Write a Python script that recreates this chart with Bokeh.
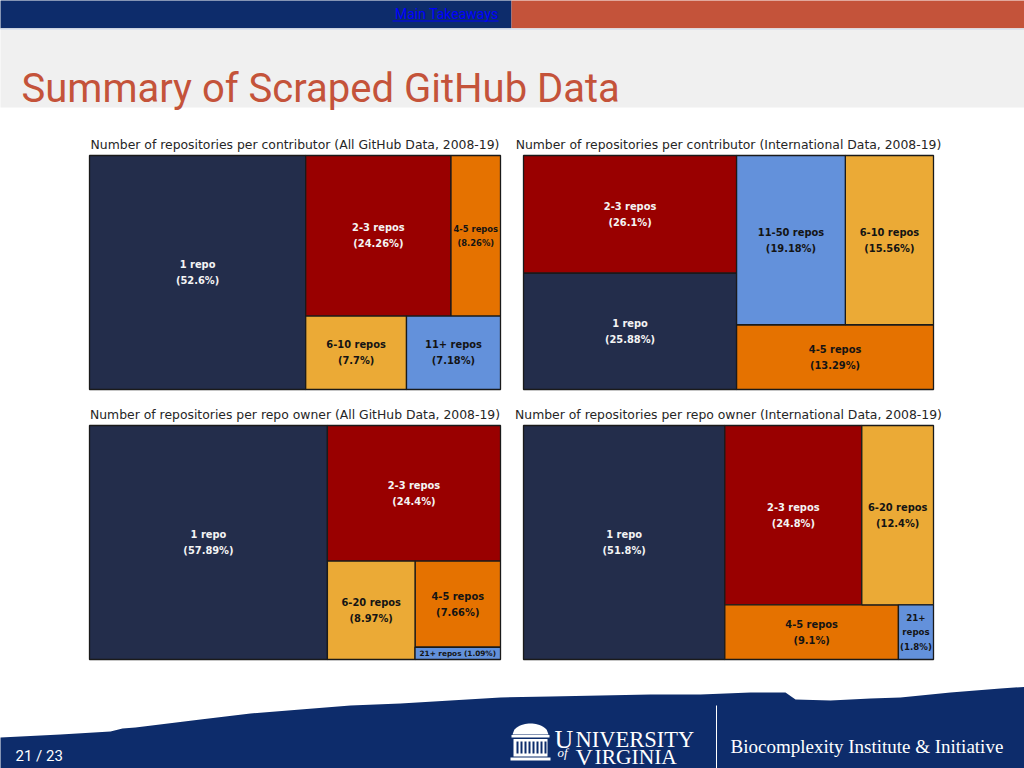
import math
from bokeh.plotting import figure
from bokeh.models import Range1d
from bokeh.core.properties import value
from bokeh.embed import file_html
from bokeh.resources import INLINE

# ---------------- data ----------------
# category slots: 0 = "1 repo", 1 = "2-3 repos", 2 = "4-5 repos", 3 = "6-x repos", 4 = "11+/21+ repos"
titles = [
    "Number of repositories per contributor (All GitHub Data, 2008-19)",
    "Number of repositories per contributor (International Data, 2008-19)",
    "Number of repositories per repo owner (All GitHub Data, 2008-19)",
    "Number of repositories per repo owner (International Data, 2008-19)",
]
names_contrib_all = ["1 repo", "2-3 repos", "4-5 repos", "6-10 repos", "11+ repos"]
pct_contrib_all = [52.6, 24.26, 8.26, 7.7, 7.18]

names_contrib_intl = ["1 repo", "2-3 repos", "4-5 repos", "6-10 repos", "11-50 repos"]
pct_contrib_intl = [25.88, 26.1, 13.29, 15.56, 19.18]

names_owner_all = ["1 repo", "2-3 repos", "4-5 repos", "6-20 repos", "21+ repos"]
pct_owner_all = [57.89, 24.4, 7.66, 8.97, 1.09]

names_owner_intl = ["1 repo", "2-3 repos", "4-5 repos", "6-20 repos", "21+ repos"]
pct_owner_intl = [51.8, 24.8, 9.1, 12.4, 1.8]
# area shares of the rectangles as drawn in the picture (labels above are the printed values)
area_owner_intl = [49.1, 25.6, 9.9, 13.4, 2.0]

charts = [
    (names_contrib_all, pct_contrib_all, pct_contrib_all),
    (names_contrib_intl, pct_contrib_intl, pct_contrib_intl),
    (names_owner_all, pct_owner_all, pct_owner_all),
    (names_owner_intl, pct_owner_intl, area_owner_intl),
]

# ---------------- styles ----------------
SLOT_COLORS = ["#232D4B", "#990000", "#E57200", "#EBAA36", "#6391DB"]
SLOT_TEXT = ["#F4F4F4", "#F4F4F4", "#141414", "#141414", "#141414"]
NAVY = "#0D2C6B"
ORANGE = "#C4533A"

# DejaVu Sans Bold advance widths (em)
EM = {"0": .696, "1": .696, "2": .696, "3": .696, "4": .696, "5": .696, "6": .696,
      "7": .696, "8": .696, "9": .696, " ": .348, "(": .457, ")": .457, "%": 1.002,
      ".": .381, "-": .415, "+": .838, "r": .493, "e": .678, "p": .716, "o": .687, "s": .595}


def em(s):
    return sum(EM.get(c, .65) for c in s)


def fit_label(name, pct, w, h, base=9.9, lh=1.45):
    pct_s = "(%s%%)" % ("%g" % pct)
    lines = [name, pct_s]
    size = min(base, 0.9 * w / max(em(l) for l in lines))
    if h < 2 * lh * size + 4:
        line = name + " " + pct_s
        return line, min(base, 0.9 * w / em(line), 0.7 * h)
    if size < 7.5:
        lines = name.split() + [pct_s]
        size = min(base, 0.9 * w / max(em(l) for l in lines), 0.9 * h / (len(lines) * lh))
    return "\n".join(lines), size


def squarify_d3(vals, x0, y0, x1, y1, ratio=(1 + math.sqrt(5)) / 2):
    order = sorted(range(len(vals)), key=lambda i: -vals[i])
    nodes = [vals[i] for i in order]
    n = len(nodes)
    rects = [None] * n
    total = sum(nodes)
    i0 = i1 = 0
    while i0 < n:
        dx, dy = x1 - x0, y1 - y0
        s = nodes[i1]
        i1 += 1
        mn = mx = s
        alpha = max(dy / dx, dx / dy) / (total * ratio)
        beta = s * s * alpha
        min_ratio = max(mx / beta, beta / mn)
        while i1 < n:
            nv = nodes[i1]
            s += nv
            mn, mx = min(mn, nv), max(mx, nv)
            beta = s * s * alpha
            new_ratio = max(mx / beta, beta / mn)
            if new_ratio > min_ratio:
                s -= nv
                break
            min_ratio = new_ratio
            i1 += 1
        row = list(range(i0, i1))
        if dx < dy:
            ny = y0 + dy * s / total
            xx = x0
            for k in row:
                w = dx * nodes[k] / s
                rects[order[k]] = (xx, y0, xx + w, ny)
                xx += w
            y0 = ny
        else:
            nx = x0 + dx * s / total
            yy = y0
            for k in row:
                hh = dy * nodes[k] / s
                rects[order[k]] = (x0, yy, nx, yy + hh)
                yy += hh
            x0 = nx
        total -= s
        i0 = i1
    return rects


# ---------------- figure (coordinates = reference pixels) ----------------
W, H = 1024, 768
p = figure(width=W, height=H, output_backend="svg", toolbar_location=None,
           x_range=Range1d(0, 1024), y_range=Range1d(768, 0), min_border=0,
           background_fill_color="white", border_fill_color="white")
p.axis.visible = False
p.grid.visible = False
p.outline_line_color = None

sans = value("Roboto")
# header
p.quad(left=[-10], right=[511], top=[-10], bottom=[28], fill_color=NAVY, line_color=None)
p.quad(left=[511], right=[1030], top=[-10], bottom=[28], fill_color=ORANGE, line_color=None)
p.quad(left=[-10], right=[1030], top=[28], bottom=[107], fill_color="#F0F0F0", line_color=None)
p.quad(left=[-10], right=[1030], top=[28], bottom=[29.5], fill_color="#DCE3EE", line_color=None)
p.text(x=[498], y=[13.5], text=["Main Takeaways"], text_align="right", text_baseline="middle",
       text_font=sans, text_font_size="14px", text_color="#0000FF")
p.segment(x0=[392], y0=[20.5], x1=[498], y1=[20.5], line_color="#0000FF", line_width=1)
p.text(x=[21], y=[88], text=["Summary of Scraped GitHub Data"], text_align="left",
       text_baseline="alphabetic", text_font=sans,
       text_font_size="40px", text_color=ORANGE)

# treemaps
boxes = [(89, 155, 500, 389), (523, 155, 933, 389), (89, 425, 500, 659), (523, 425, 933, 659)]
for (names, pcts, areas), title, (bx0, by0, bx1, by1) in zip(charts, titles, boxes):
    rects = squarify_d3(areas, bx0, by0, bx1, by1)
    p.quad(left=[r[0] for r in rects], right=[r[2] for r in rects],
           top=[r[1] for r in rects], bottom=[r[3] for r in rects],
           fill_color=SLOT_COLORS, line_color="#1A1A1A", line_width=1.3)
    for k, (nm, pc, r) in enumerate(zip(names, pcts, rects)):
        txt, size = fit_label(nm, pc, r[2] - r[0], r[3] - r[1])
        p.text(x=[(r[0] + r[2]) / 2], y=[(r[1] + r[3]) / 2], text=[txt],
               text_align="center", text_baseline="middle",
               text_font=value("DejaVu Sans"), text_font_style="bold",
               text_font_size="%.1fpx" % size, text_line_height=1.45,
               text_color=SLOT_TEXT[k])
    p.text(x=[(bx0 + bx1) / 2], y=[by0 - 11], text=[title], text_align="center",
           text_baseline="middle", text_font=value("DejaVu Sans"),
           text_font_size="12.4px", text_color="#262626")

# footer wave
wx = [-10, 0, 60, 110, 122, 135, 200, 250, 300, 350, 400, 450, 500, 550, 600, 650, 700,
      750, 785, 795, 830, 870, 900, 950, 1000, 1030, 1030, -10]
wy = [737, 737, 734, 731, 728, 727, 719, 713, 709, 705, 703, 700, 697, 696, 695, 694, 694,
      692, 692, 699, 700, 698, 697, 692, 688, 686, 780, 780]
p.patch(x=wx, y=wy, fill_color=NAVY, line_color=None)
p.text(x=[15], y=[755], text=["21 / 23"], text_align="left", text_baseline="middle",
       text_font=sans, text_font_size="15px", text_color="white")

# rotunda icon
dome_x = [512 + 36 * i / 20 for i in range(21)]
dome_y = [734 - 11 * math.sqrt(max(0.0, 1 - ((xx - 530) / 18) ** 2)) for xx in dome_x]
p.patch(x=dome_x, y=dome_y, fill_color="white", line_color=None)
p.quad(left=[511], right=[549], top=[734.5], bottom=[737], fill_color="white", line_color=None)
p.quad(left=[513], right=[547], top=[738.5], bottom=[756], fill_color="white", line_color=None)
p.quad(left=[516 + 4 * i for i in range(8)], right=[518 + 4 * i for i in range(8)],
       top=[741] * 8, bottom=[753] * 8, fill_color=NAVY, line_color=None)
p.quad(left=[510], right=[550], top=[757], bottom=[760], fill_color="white", line_color=None)

serif = value("Liberation Serif")
p.text(x=[554], y=[739], text=["U"], text_baseline="alphabetic", text_font=serif,
       text_font_size="26px", text_color="white")
p.text(x=[575], y=[739], text=["NIVERSITY"], text_baseline="alphabetic", text_font=serif,
       text_font_size="22.5px", text_color="white")
p.text(x=[557], y=[752], text=["of"], text_baseline="alphabetic", text_font=serif,
       text_font_style="italic", text_font_size="13px", text_color="white")
p.text(x=[575], y=[756], text=["V"], text_baseline="alphabetic", text_font=serif,
       text_font_size="24px", text_color="white")
p.text(x=[594], y=[756], text=["IRGINIA"], text_baseline="alphabetic", text_font=serif,
       text_font_size="21.5px", text_color="white")
p.segment(x0=[716], y0=[705], x1=[716], y1=[770], line_color="white", line_width=1)
p.text(x=[730], y=[746], text=["Biocomplexity Institute & Initiative"], text_baseline="alphabetic",
       text_font=serif, text_font_size="19px", text_color="white")

open("out.html", "w").write(file_html(p, INLINE))
